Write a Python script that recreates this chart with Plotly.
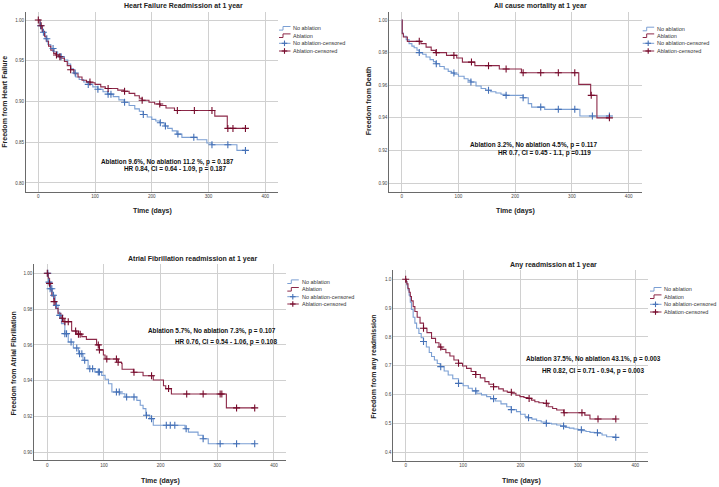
import numpy as np
import plotly.graph_objects as go

# ------------------------------------------------------------------ data
# Panel 1: Heart failure readmission (Kaplan-Meier, days / survival)
hf_t_no = [0, 3, 7, 12, 17, 22, 28, 34, 40, 46, 52, 57, 62, 66, 72, 80, 88, 96, 105, 114,
           122, 132, 142, 151, 160, 170, 178, 185, 192, 200, 207, 214, 222, 228, 236, 244,
           253, 280, 297, 306, 350, 365]
hf_s_no = [1.000, 0.993, 0.985, 0.977, 0.970, 0.965, 0.961, 0.958, 0.955, 0.951, 0.946, 0.940,
           0.935, 0.930, 0.927, 0.924, 0.921, 0.918, 0.915, 0.912, 0.909, 0.906, 0.902, 0.899,
           0.895, 0.891, 0.888, 0.884, 0.881, 0.878, 0.876, 0.874, 0.870, 0.867, 0.864, 0.860,
           0.856, 0.853, 0.849, 0.847, 0.840, 0.840]
hf_t_ab = [0, 3, 7, 11, 14, 18, 22, 27, 31, 36, 40, 46, 51, 57, 63, 70, 77, 85, 92, 100,
           110, 118, 140, 151, 160, 170, 178, 183, 195, 205, 215, 225, 240, 311, 333, 365]
hf_s_ab = [1.000, 0.993, 0.986, 0.980, 0.974, 0.968, 0.963, 0.959, 0.957, 0.955, 0.953, 0.949,
           0.944, 0.939, 0.934, 0.930, 0.926, 0.924, 0.923, 0.921, 0.918, 0.916, 0.914, 0.9125,
           0.910, 0.907, 0.904, 0.9015, 0.899, 0.897, 0.895, 0.892, 0.889, 0.882, 0.867, 0.867]
hf_c_no = [4, 9, 15, 26, 40, 65, 88, 105, 123, 128, 152, 185, 215, 224, 246, 274, 306, 334, 365]
hf_c_ab = [0, 5, 32, 38, 57, 91, 123, 152, 183, 214, 245, 275, 306, 334, 343, 365]

# Panel 2: All cause mortality
mo_t_no = [0, 1, 3, 8, 13, 18, 22, 27, 31, 37, 43, 50, 56, 60, 67, 75, 82, 88, 93, 100,
           110, 117, 122, 131, 140, 148, 157, 166, 175, 184, 214, 223, 229, 252, 314, 365]
mo_s_no = [1.000, 0.992, 0.990, 0.988, 0.9855, 0.984, 0.983, 0.9815, 0.980, 0.979, 0.9773,
           0.9757, 0.9745, 0.9732, 0.9715, 0.970, 0.9685, 0.9675, 0.9667, 0.9655, 0.964, 0.963,
           0.962, 0.9595, 0.958, 0.9569, 0.956, 0.9552, 0.9545, 0.9538, 0.9523, 0.9487, 0.9466,
           0.9452, 0.9411, 0.9411]
mo_t_ab = [0, 1, 3, 10, 34, 43, 52, 60, 79, 97, 107, 129, 172, 211, 312, 333, 344, 365]
mo_s_ab = [1.000, 0.9916, 0.9896, 0.9869, 0.9855, 0.9834, 0.9814, 0.980, 0.9783, 0.9767,
           0.9742, 0.972, 0.970, 0.9677, 0.9605, 0.9538, 0.940, 0.940]
mo_c_no = [31, 61, 92, 122, 153, 184, 214, 245, 276, 305, 336, 366]
mo_c_ab = [31, 61, 92, 123, 153, 184, 214, 245, 276, 305, 334, 366]

# Panel 3: Atrial fibrillation readmission
af_t_no = [0, 2, 5, 9, 14, 19, 25, 31, 37, 46, 55, 63, 72, 84, 96, 102, 108, 114, 128, 137,
           158, 164, 169, 174, 181, 187, 243, 249, 266, 275, 284, 365]
af_s_no = [1.000, 0.9951, 0.9914, 0.9877, 0.9821, 0.9765, 0.9719, 0.9663, 0.9616, 0.9583,
           0.9551, 0.9514, 0.9467, 0.9449, 0.943, 0.9408, 0.9383, 0.9337, 0.9327, 0.9309,
           0.929, 0.9263, 0.9244, 0.9207, 0.9188, 0.9151, 0.9132, 0.9113, 0.9095, 0.9076,
           0.9048, 0.9048]
af_t_ab = [0, 2, 4, 6, 8, 12, 15, 19, 24, 28, 43, 52, 61, 69, 87, 92, 99, 102, 125, 131,
           132, 152, 169, 187, 205, 209, 219, 316, 365]
af_s_ab = [1.000, 0.9972, 0.9944, 0.9907, 0.9873, 0.9842, 0.9804, 0.9777, 0.9749, 0.973,
           0.9678, 0.966, 0.9646, 0.9631, 0.960, 0.9572, 0.9544, 0.9521, 0.9503, 0.9497,
           0.9464, 0.9447, 0.9428, 0.9404, 0.9372, 0.9356, 0.9326, 0.9248, 0.9248]
af_c_no = [1, 3, 5, 8, 11, 16, 22, 31, 34, 42, 52, 57, 61, 66, 75, 80, 90, 92, 122, 127,
           140, 153, 175, 184, 210, 217, 225, 245, 275, 305, 334, 366]
af_c_ab = [0, 4, 12, 27, 31, 37, 50, 55, 58, 90, 92, 105, 122, 125, 153, 184, 214, 246,
           275, 305, 308, 334, 366]

# Panel 4: Any readmission
an_t_no = [0, 1, 2, 3, 4, 6, 8, 10, 13, 16, 19, 23, 27, 31, 36, 41, 45, 50, 55, 60, 67, 74,
           82, 92, 100, 109, 116, 124, 132, 141, 148, 156, 166, 176, 184, 193, 200, 208, 213,
           220, 228, 236, 245, 254, 263, 270, 278, 285, 293, 300, 307, 314, 321, 328, 335,
           342, 350, 365]
an_s_no = [1.000, 0.990, 0.980, 0.972, 0.963, 0.945, 0.920, 0.895, 0.868, 0.848, 0.830, 0.812,
           0.797, 0.784, 0.765, 0.746, 0.732, 0.720, 0.708, 0.697, 0.682, 0.668, 0.655, 0.639,
           0.631, 0.622, 0.613, 0.605, 0.599, 0.593, 0.586, 0.578, 0.568, 0.558, 0.548, 0.541,
           0.532, 0.524, 0.520, 0.515, 0.5095, 0.505, 0.5005, 0.498, 0.4946, 0.491, 0.4866,
           0.484, 0.481, 0.478, 0.475, 0.472, 0.4693, 0.468, 0.466, 0.460, 0.454, 0.452]
an_t_ab = [0, 1, 2, 4, 6, 8, 10, 13, 16, 20, 25, 31, 37, 45, 52, 58, 63, 70, 77, 84, 92, 99,
           106, 114, 122, 130, 138, 145, 153, 162, 170, 177, 185, 192, 199, 206, 213, 219,
           225, 232, 240, 248, 256, 263, 275, 312, 321, 365]
an_s_ab = [1.000, 0.992, 0.984, 0.968, 0.955, 0.940, 0.925, 0.905, 0.888, 0.868, 0.848, 0.830,
           0.815, 0.795, 0.780, 0.765, 0.757, 0.745, 0.734, 0.720, 0.7086, 0.699, 0.691, 0.680,
           0.670, 0.658, 0.645, 0.636, 0.6275, 0.620, 0.6125, 0.608, 0.6046, 0.598, 0.593,
           0.590, 0.587, 0.581, 0.5755, 0.572, 0.570, 0.558, 0.552, 0.5466, 0.537, 0.529,
           0.5155, 0.5155]
an_c_no = [31, 61, 92, 122, 153, 184, 214, 245, 275, 306, 334, 366]
an_c_ab = [0, 31, 61, 92, 122, 153, 184, 215, 245, 276, 307, 335, 366]

x_ticks = [0, 100, 200, 300, 400]
legend_labels = ["No ablation", "Ablation", "No ablation-censored", "Ablation-censored"]

# ------------------------------------------------------------------ style
W, H = 719, 487
FONT = "Liberation Sans, Arial, sans-serif"
BLUE_LINE = "#7b9fd3"
BLUE_MARK = "#4470b6"
RED_LINE = "#8c2848"
RED_MARK = "#760a2b"
GRID = "#d0d0d0"
AXIS = "#6a6a6a"


def px(x):
    return x / W


def py(y):
    return 1 - y / H


def censor_y(t, s, c):
    idx = np.searchsorted(np.asarray(t, float), np.asarray(c, float), side="right") - 1
    return np.asarray(s)[np.clip(idx, 0, len(s) - 1)]


panels = [
    dict(title="Heart Failure Readmission at 1 year", ylabel="Freedom from Heart Failure",
         t_no=hf_t_no, s_no=hf_s_no, c_no=hf_c_no, t_ab=hf_t_ab, s_ab=hf_s_ab, c_ab=hf_c_ab,
         xdom=(26, 278.3), ydom=(11.7, 191.7), xr=(-21.7, 422.9), yr=(0.7893, 1.0102),
         yticks=[0.80, 0.85, 0.90, 0.95, 1.00], yfmt=".2f",
         title_pos=(183, 6), ylab_pos=(5, 101.7), xlab_pos=(152.5, 210.7),
         stats=[("Ablation 9.6%, No ablation 11.2 %, p = 0.187", 227.7, 0.8261),
                ("HR 0.84, CI = 0.64 - 1.09, p = 0.187", 241.2, 0.8168)],
         leg=(279, 291, [28.3, 35.7, 43.3, 51.0])),
    dict(title="All cause mortality at 1 year", ylabel="Freedom from Death",
         t_no=mo_t_no, s_no=mo_s_no, c_no=mo_c_no, t_ab=mo_t_ab, s_ab=mo_s_ab, c_ab=mo_c_ab,
         xdom=(389.3, 641.7), ydom=(11.7, 191.7), xr=(-21.8, 422.9), yr=(0.8947, 1.0051),
         yticks=[0.90, 0.92, 0.94, 0.96, 0.98, 1.00], yfmt=".2f",
         title_pos=(540.3, 6), ylab_pos=(368.5, 101.7), xlab_pos=(515.8, 210.7),
         stats=[("Ablation 3.2%, No ablation 4.5%, p = 0.117", 231.9, 0.9233),
                ("HR 0.7, CI = 0.45 - 1.1, p =0.119", 252.5, 0.9182)],
         leg=(642.7, 655, [29.0, 35.7, 43.3, 51.0])),
    dict(title="Atrial Fibrillation readmission at 1 year", ylabel="Freedom from Atrial Fibrillation",
         t_no=af_t_no, s_no=af_s_no, c_no=af_c_no, t_ab=af_t_ab, s_ab=af_s_ab, c_ab=af_c_ab,
         xdom=(34.3, 286), ydom=(264, 460), xr=(-22.9, 421.2), yr=(0.8957, 1.0052),
         yticks=[0.90, 0.92, 0.94, 0.96, 0.98, 1.00], yfmt=".2f",
         title_pos=(192.2, 259), ylab_pos=(13.3, 363.3), xlab_pos=(160.8, 480.7),
         stats=[("Ablation 5.7%, No ablation 7.3%, p = 0.107", 291.5, 0.9679),
                ("HR 0.76, CI = 0.54 - 1.06, p = 0.108", 315.9, 0.9618)],
         leg=(287.3, 300, [281.7, 289.3, 296.7, 304.0])),
    dict(title="Any readmission at 1 year", ylabel="Freedom from any readmission",
         t_no=an_t_no, s_no=an_s_no, c_no=an_c_no, t_ab=an_t_ab, s_ab=an_s_ab, c_ab=an_c_ab,
         xdom=(393.3, 648.3), ydom=(270, 460.7), xr=(-21.6, 422.6), yr=(0.371, 1.032),
         yticks=[0.4, 0.5, 0.6, 0.7, 0.8, 0.9, 1.0], yfmt=".1f",
         title_pos=(553.8, 265), ylab_pos=(374, 366.7), xlab_pos=(521.7, 480.7),
         stats=[("Ablation 37.5%, No ablation 43.1%, p = 0.003", 327.5, 0.7225),
                ("HR 0.82, CI = 0.71 - 0.94, p = 0.003", 326.0, 0.683)],
         leg=(650, 662, [289.3, 296.7, 304.3, 312.0])),
]

fig = go.Figure()
annotations = []
shapes = []

for i, p in enumerate(panels, start=1):
    sfx = "" if i == 1 else str(i)
    xa, ya = "x" + sfx, "y" + sfx

    series = [
        (p["t_no"], p["s_no"], p["c_no"], BLUE_LINE, BLUE_MARK, legend_labels[0], legend_labels[2]),
        (p["t_ab"], p["s_ab"], p["c_ab"], RED_LINE, RED_MARK, legend_labels[1], legend_labels[3]),
    ]
    for t, s, c, lc, mc, nm, cnm in series:
        fig.add_trace(go.Scatter(x=t, y=s, mode="lines", name=nm, showlegend=False,
                                 line=dict(shape="hv", color=lc, width=1.1),
                                 xaxis=xa, yaxis=ya, hoverinfo="skip"))
    for t, s, c, lc, mc, nm, cnm in series:
        fig.add_trace(go.Scatter(x=c, y=censor_y(t, s, c), mode="markers", name=cnm,
                                 showlegend=False,
                                 marker=dict(symbol="cross-thin", size=5,
                                             line=dict(color=mc, width=1.1)),
                                 xaxis=xa, yaxis=ya, hoverinfo="skip"))

    fig.update_layout(**{
        "xaxis" + sfx: dict(domain=[px(p["xdom"][0]), px(p["xdom"][1])], range=list(p["xr"]),
                            anchor=ya, tickvals=x_ticks, showgrid=True, gridcolor=GRID,
                            gridwidth=1, zeroline=False, showline=True, linecolor=AXIS,
                            linewidth=1, ticks="", tickfont=dict(size=4.6, color="#444",
                                                                  family=FONT)),
        "yaxis" + sfx: dict(domain=[py(p["ydom"][1]), py(p["ydom"][0])], range=list(p["yr"]),
                            anchor=xa, tickvals=p["yticks"], tickformat=p["yfmt"],
                            showgrid=True, gridcolor=GRID, gridwidth=1, zeroline=False,
                            showline=True, linecolor=AXIS, linewidth=1, ticks="",
                            tickfont=dict(size=4.6, color="#444", family=FONT)),
    })

    # titles and axis labels
    annotations.append(dict(text="<b>" + p["title"] + "</b>", x=px(p["title_pos"][0]),
                            y=py(p["title_pos"][1]), xref="paper", yref="paper",
                            showarrow=False, xanchor="center", yanchor="middle",
                            font=dict(size=7, color="#222", family=FONT)))
    annotations.append(dict(text="<b>" + p["ylabel"] + "</b>", x=px(p["ylab_pos"][0]),
                            y=py(p["ylab_pos"][1]), xref="paper", yref="paper",
                            showarrow=False, textangle=-90, xanchor="center",
                            yanchor="middle", font=dict(size=7, color="#222", family=FONT)))
    annotations.append(dict(text="<b>Time (days)</b>", x=px(p["xlab_pos"][0]),
                            y=py(p["xlab_pos"][1]), xref="paper", yref="paper",
                            showarrow=False, xanchor="center", yanchor="middle",
                            font=dict(size=7, color="#222", family=FONT)))
    for txt, sx, sy in p["stats"]:
        annotations.append(dict(text="<b>" + txt + "</b>", x=sx, y=sy, xref=xa, yref=ya,
                                showarrow=False, xanchor="center", yanchor="middle",
                                font=dict(size=6.4, color="#111", family=FONT)))

    # legend (drawn as text + small icons)
    x0, tx, rows = p["leg"]
    icon = [("step", BLUE_LINE, None), ("step", RED_LINE, None),
            ("cens", BLUE_LINE, BLUE_MARK), ("cens", RED_LINE, RED_MARK)]
    for (kind, lc, mc), ry, lab in zip(icon, rows, legend_labels):
        if kind == "step":
            path = (f"M {px(x0)},{py(ry + 1.8)} L {px(x0 + 4)},{py(ry + 1.8)} "
                    f"L {px(x0 + 4)},{py(ry - 1.8)} L {px(x0 + 11.5)},{py(ry - 1.8)}")
            shapes.append(dict(type="path", path=path, xref="paper", yref="paper",
                               line=dict(color=lc, width=1)))
        else:
            shapes.append(dict(type="line", x0=px(x0), x1=px(x0 + 11.5), y0=py(ry), y1=py(ry),
                               xref="paper", yref="paper", line=dict(color=lc, width=1)))
            cx = x0 + 5.5
            shapes.append(dict(type="line", x0=px(cx - 2.8), x1=px(cx + 2.8), y0=py(ry), y1=py(ry),
                               xref="paper", yref="paper", line=dict(color=mc, width=1.1)))
            shapes.append(dict(type="line", x0=px(cx), x1=px(cx), y0=py(ry - 2.8), y1=py(ry + 2.8),
                               xref="paper", yref="paper", line=dict(color=mc, width=1.1)))
        annotations.append(dict(text=lab, x=px(tx), y=py(ry), xref="paper", yref="paper",
                                showarrow=False, xanchor="left", yanchor="middle",
                                font=dict(size=5.5, color="#333", family=FONT)))

fig.update_layout(
    width=W, height=H, margin=dict(l=0, r=0, t=0, b=0),
    paper_bgcolor="white", plot_bgcolor="white",
    font=dict(family=FONT, color="#333"),
    showlegend=False, annotations=annotations, shapes=shapes,
)

fig.write_html(
    "out.html",
    config={"displayModeBar": False},
    post_script="document.body.style.margin='0';document.body.style.overflow='hidden';",
)
